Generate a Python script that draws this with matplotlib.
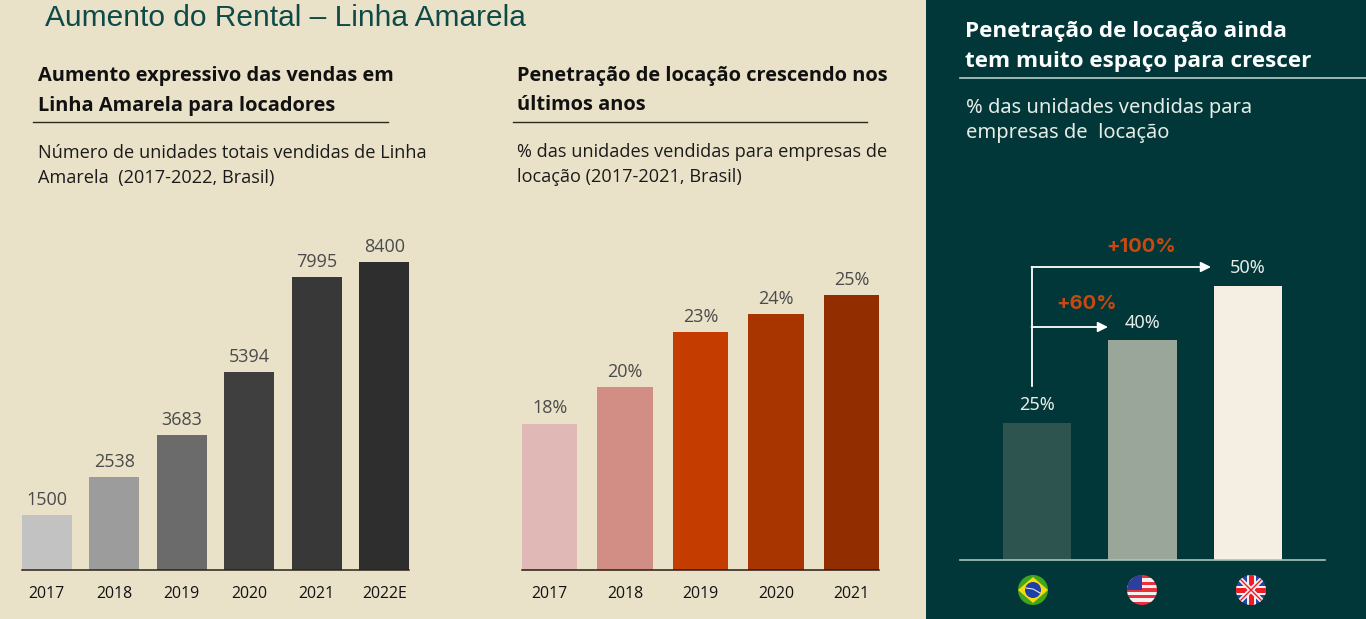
import numpy as np
import matplotlib
matplotlib.use("Agg")
import matplotlib.pyplot as plt
from matplotlib.patches import Circle, Rectangle, Polygon

# data
anos_vendas = ["2017", "2018", "2019", "2020", "2021", "2022E"]
vendas = [1500, 2538, 3683, 5394, 7995, 8400]
cores_vendas = ["#c2c2c2", "#9c9c9c", "#6b6b6b", "#3f3f3f", "#383838", "#2e2e2e"]

anos_pen = ["2017", "2018", "2019", "2020", "2021"]
penetracao = [18, 20, 23, 24, 25]
cores_pen = ["#e0b9b6", "#d28e85", "#c43c00", "#a83500", "#922d00"]

paises = ["Brasil", "EUA", "UK"]
pen_paises = [25, 40, 50]
cores_paises = ["#2e5450", "#9aa69a", "#f5efe3"]

BEGE = "#e9e2c8"
VERDE = "#02373a"
W, H = 1366, 619

fig = plt.figure(figsize=(W / 100, H / 100), dpi=100, facecolor=BEGE)


def eixo(x0, x1, y_top, y_base):
    # axes from pixel box
    ax = fig.add_axes([x0 / W, 1 - y_base / H, (x1 - x0) / W, (y_base - y_top) / H])
    ax.patch.set_alpha(0)
    for s in ["top", "left", "right"]:
        ax.spines[s].set_visible(False)
    ax.set_yticks([])
    ax.tick_params(axis="x", length=0)
    return ax


# overlay in pixel coordinates
bg = fig.add_axes([0, 0, 1, 1])
bg.set_xlim(0, W)
bg.set_ylim(H, 0)
bg.axis("off")
bg.add_patch(Rectangle((926, 0), W - 926, H, color=VERDE, lw=0))

bg.text(45, 18, "Aumento do Rental – Linha Amarela", family="Liberation Sans", fontsize=21.5,
        color="#0e4a48", va="center")

# left chart
calibri = "Open Sans"
bg.text(38, 76.5, "Aumento expressivo das vendas em", family=calibri, weight="bold", fontsize=14.4,
        color="#111111", va="center")
bg.text(38, 105.5, "Linha Amarela para locadores", family=calibri, weight="bold", fontsize=14.4,
        color="#111111", va="center")
bg.plot([33, 388], [121.5, 121.5], color="#2a2a1a", lw=1)
bg.text(38, 153, "Número de unidades totais vendidas de Linha", family=calibri, fontsize=13.1,
        color="#1a1a1a", va="center")
bg.text(38, 178, "Amarela  (2017-2022, Brasil)", family=calibri, fontsize=13.1,
        color="#1a1a1a", va="center")

ax1 = eixo(22, 409, 230, 570)
x1 = np.arange(len(vendas))
ax1.bar(x1, vendas, width=0.735, color=cores_vendas)
ax1.set_xlim(-0.3675, 5.3675)
ax1.set_ylim(0, 8400 * 340 / 308)
ax1.set_xticks(x1, anos_vendas, family=calibri, fontsize=11.4, color="#111111")
ax1.tick_params(axis="x", pad=11.5)
ax1.spines["bottom"].set_color("#2a2214")
ax1.spines["bottom"].set_linewidth(1.1)
for xi, v in zip(x1, vendas):
    ax1.annotate(str(v), (xi, v), xytext=(0, 4.5), textcoords="offset points", ha="center", va="bottom",
                 family=calibri, fontsize=13, color="#4a4a4a")

# middle chart
bg.text(517, 76.5, "Penetração de locação crescendo nos", family=calibri, weight="bold", fontsize=14.4,
        color="#111111", va="center")
bg.text(517, 105.5, "últimos anos", family=calibri, weight="bold", fontsize=14.4,
        color="#111111", va="center")
bg.plot([513, 867], [121.5, 121.5], color="#2a2a1a", lw=1)
bg.text(517, 152, "% das unidades vendidas para empresas de", family=calibri, fontsize=13.1,
        color="#1a1a1a", va="center")
bg.text(517, 177, "locação (2017-2021, Brasil)", family=calibri, fontsize=13.1,
        color="#1a1a1a", va="center")

ax2 = eixo(522, 879, 230, 570)
x2 = np.arange(len(penetracao))
ax2.bar(x2, penetracao, width=0.73, color=cores_pen)
ax2.set_xlim(-0.365, 4.365)
ax2.set_ylim(10, 10 + 340 / 18.3)
ax2.set_xticks(x2, anos_pen, family=calibri, fontsize=11.4, color="#111111")
ax2.tick_params(axis="x", pad=11.5)
ax2.spines["bottom"].set_color("#2a1a10")
ax2.spines["bottom"].set_linewidth(1.1)
for xi, v in zip(x2, penetracao):
    ax2.annotate(f"{v}%", (xi, v), xytext=(0, 4.5), textcoords="offset points", ha="center", va="bottom",
                 family=calibri, fontsize=13, color="#4a4a4a")

# right panel
plex = "Noto Sans"
bg.text(965, 32, "Penetração de locação ainda", family="Open Sans", weight="bold", fontsize=16.2,
        color="white", va="center")
bg.text(965, 61, "tem muito espaço para crescer", family="Open Sans", weight="bold", fontsize=16.2,
        color="white", va="center")
bg.plot([960, 1366], [78, 78], color="#b5cfc6", lw=1.2)
bg.text(966, 108, "% das unidades vendidas para", family=plex, fontsize=14.45,
        color="#e6ece6", va="center")
bg.text(966, 133, "empresas de  locação", family=plex, fontsize=14.45,
        color="#e6ece6", va="center")

ax3 = eixo(960, 1325, 230, 559.5)
x3 = np.arange(len(pen_paises))
ax3.bar(x3, pen_paises, width=0.65, color=cores_paises)
ax3.set_xlim((960 - 1037) / 105.5, (1325 - 1037) / 105.5)
ax3.set_ylim(0, 329.5 / 5.48)
ax3.set_xticks([])
ax3.spines["bottom"].set_color("#a9c4ba")
ax3.spines["bottom"].set_linewidth(1.2)
for xi, v in zip(x3, pen_paises):
    ax3.annotate(f"{v}%", (xi, v), xytext=(0, 6), textcoords="offset points", ha="center", va="bottom",
                 family=plex, fontsize=13, color="#e8ece6")

# arrows
seta = dict(arrowstyle="-|>", color="white", lw=1.3, shrinkA=0, shrinkB=0, mutation_scale=15)
bg.plot([1031.5, 1031.5], [386, 267], color="white", lw=1.3)
bg.annotate("", xy=(1211, 267), xytext=(1031.5, 267), arrowprops=seta)
bg.annotate("", xy=(1108, 327), xytext=(1031.5, 327), arrowprops=seta)
bg.text(1141, 247, "+100%", family="Inter", weight="bold", fontsize=14.5, color="#c8490f", ha="center", va="center")
bg.text(1087, 304, "+60%", family="Inter", weight="bold", fontsize=14.5, color="#c8490f", ha="center", va="center")

# flags
R = 15
cx, cy = 1033, 590
bg.add_patch(Circle((cx, cy), R, color="#3fa51c", lw=0))
bg.add_patch(Polygon([(cx - R, cy), (cx, cy - R + 2), (cx + R, cy), (cx, cy + R - 2)], color="#f7d90e", lw=0))
bg.add_patch(Circle((cx, cy), 8, color="#1c3fa8", lw=0))
bg.plot([cx - 7, cx, cx + 7], [cy - 2, cy - 1, cy + 3], color="#e8e8e8", lw=0.8)

cx = 1142
clip = Circle((cx, cy), R, transform=bg.transData)
for i in range(9):
    r = bg.add_patch(Rectangle((cx - R, cy - R + i * 30 / 9), 30, 30 / 9,
                               color="#e8313a" if i % 2 == 0 else "#f6f0f0", lw=0))
    r.set_clip_path(clip)
r = bg.add_patch(Rectangle((cx - R, cy - R), 15, 15, color="#2b3f9e", lw=0))
r.set_clip_path(clip)

cx = 1251
clip = Circle((cx, cy), R, transform=bg.transData)
r = bg.add_patch(Rectangle((cx - R, cy - R), 30, 30, color="#2346a8", lw=0))
r.set_clip_path(clip)
for dx, dy, c, lw in [(1, 1, "#f4f0f0", 3.5), (1, -1, "#f4f0f0", 3.5), (1, 1, "#ee1c25", 1), (1, -1, "#ee1c25", 1)]:
    l, = bg.plot([cx - R * dx, cx + R * dx], [cy - R * dy, cy + R * dy], color=c, lw=lw)
    l.set_clip_path(clip)
for w, c in [(9, "#f4f0f0"), (5, "#ee1c25")]:
    r = bg.add_patch(Rectangle((cx - w / 2, cy - R), w, 30, color=c, lw=0))
    r.set_clip_path(clip)
    r = bg.add_patch(Rectangle((cx - R, cy - w / 2), 30, w, color=c, lw=0))
    r.set_clip_path(clip)

fig.savefig("out.png", dpi=100, facecolor=fig.get_facecolor())
